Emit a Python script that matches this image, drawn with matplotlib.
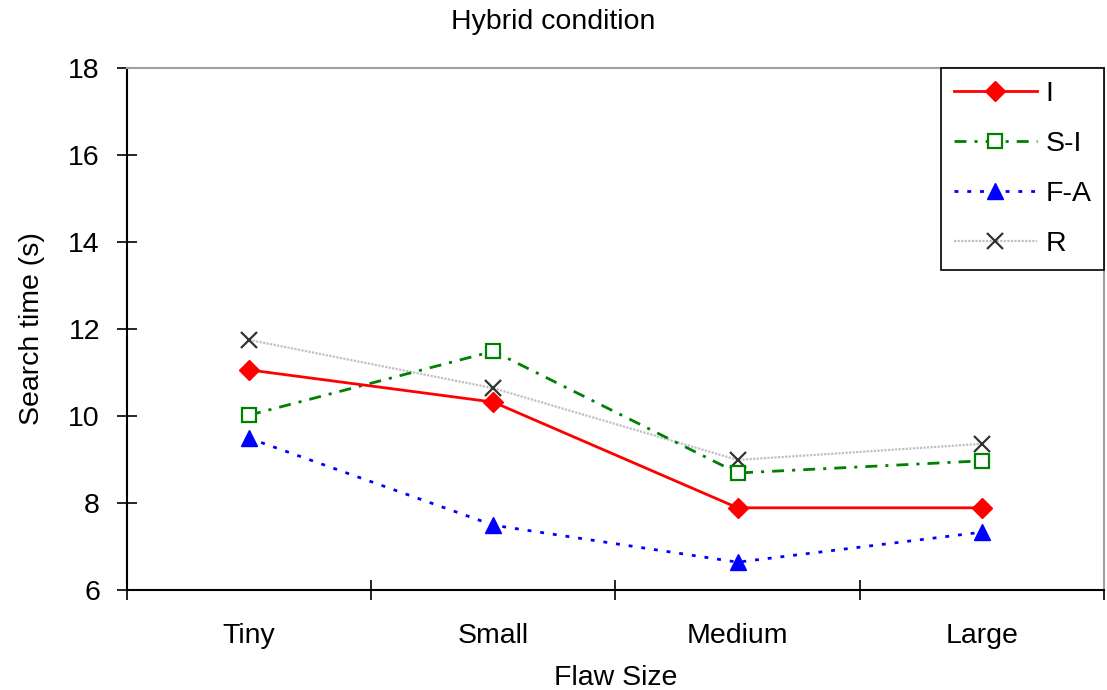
import matplotlib.pyplot as plt

plt.rcParams['font.family'] = ['Liberation Sans', 'DejaVu Sans']

sizes = ['Tiny', 'Small', 'Medium', 'Large']
t_i = [11.06, 10.32, 7.89, 7.89]
t_si = [10.02, 11.49, 8.69, 8.97]
t_fa = [9.49, 7.49, 6.64, 7.33]
t_r = [11.75, 10.64, 8.99, 9.36]

FS = 20.5

fig = plt.figure(figsize=(11.07, 6.9), dpi=100)
ax = fig.add_axes([0.1147, 0.1449, 0.8826, 0.7565])

x = [i + 0.5 for i in range(len(sizes))]

ax.plot(x, t_r, color='#c0c0c0', linestyle=(0, (1, 0.6)), linewidth=1.6,
        marker='x', markersize=11, markeredgecolor='#333333', markeredgewidth=1.6, label='R')
ax.plot(x, t_si, color='green', linestyle=(0, (4.3, 2.9, 1.1, 2.9)), linewidth=2,
        marker='s', markersize=9.5, markerfacecolor='white', markeredgecolor='green',
        markeredgewidth=1.6, label='S-I')
ax.plot(x, t_i, color='red', linestyle='-', linewidth=2,
        marker='D', markersize=10, label='I')
ax.plot(x, t_fa, color='blue', linestyle=(0, (1.4, 3.2)), linewidth=2,
        marker='^', markersize=12, label='F-A')

ax.set_xlim(0, 4)
ax.set_ylim(6, 18)
ax.set_yticks(range(6, 19, 2))
ax.set_xticks(range(5))
ax.set_xticklabels([])
ax.set_xticks(x, minor=True)
ax.set_xticklabels(sizes, minor=True)
ax.tick_params(axis='x', which='minor', length=0, labelsize=FS, pad=24)
ax.tick_params(axis='x', which='major', direction='inout', length=15, width=1.2)
ax.tick_params(axis='y', direction='inout', length=15, width=1.2, labelsize=FS, pad=12)

for side in ['top', 'right']:
    ax.spines[side].set_color('#a0a0a0')
    ax.spines[side].set_linewidth(1.5)
for side in ['left', 'bottom']:
    ax.spines[side].set_linewidth(1.5)

ax.set_xlabel('Flaw Size', fontsize=FS, labelpad=11)
ax.set_ylabel('Search time (s)', fontsize=FS, labelpad=17)
fig.text(0.5, 1 - 22 / 690, 'Hybrid condition', fontsize=FS, ha='center', va='center')

handles = {h.get_label(): h for h in ax.get_lines()}
order = ['I', 'S-I', 'F-A', 'R']
leg = ax.legend([handles[k] for k in order], order, loc='upper right',
                bbox_to_anchor=(1.0, 1.0), borderaxespad=0, fontsize=FS,
                frameon=True, fancybox=False, edgecolor='black', framealpha=1,
                handlelength=2.9, labelspacing=0.85, borderpad=0.45,
                handletextpad=0.3)
leg.get_frame().set_linewidth(1.2)

fig.savefig('out.png', dpi=100)
